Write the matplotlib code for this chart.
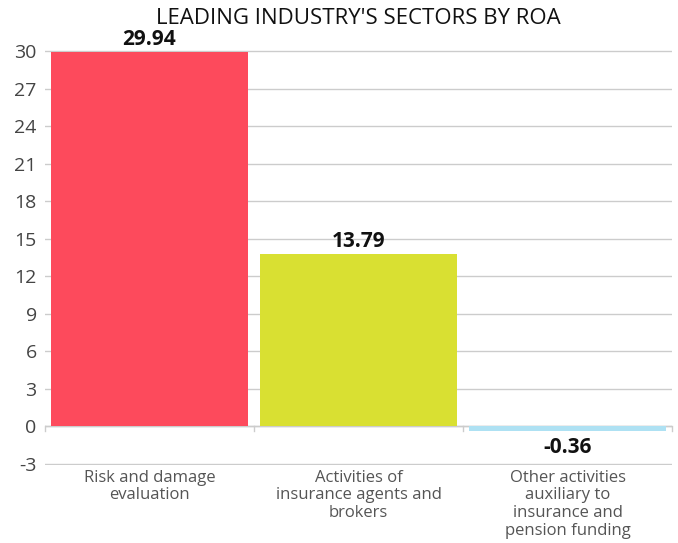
import matplotlib
matplotlib.use("Agg")
import matplotlib.pyplot as plt

categories = ["Risk and damage\nevaluation",
              "Activities of\ninsurance agents and\nbrokers",
              "Other activities\nauxiliary to\ninsurance and\npension funding"]
values = [29.94, 13.79, -0.36]
value_labels = ["29.94", "13.79", "-0.36"]
colors = ["#fd4a5c", "#d9e032", "#aee1f3"]
yticks = [-3, 0, 3, 6, 9, 12, 15, 18, 21, 24, 27, 30]
title = "LEADING INDUSTRY'S SECTORS BY ROA"

plt.rcParams['font.family'] = ['Open Sans', 'DejaVu Sans']

fig = plt.figure(figsize=(6.78, 5.43), dpi=100)
ax = fig.add_axes([45/678, 1-465.25/543, (672-45)/678, (465.25-49.75)/543])

x = list(range(len(categories)))
ax.bar(x, values, width=0.94, color=colors, zorder=3)
ax.set_xlim(-0.5, 2.5)
ax.set_ylim(-3.1, 30.1)
ax.set_yticks(yticks)
ax.set_yticklabels([str(t) for t in yticks], fontsize=14, color="#444444")
ax.yaxis.grid(True, color="#cccccc", linewidth=1, zorder=0)
ax.tick_params(axis='y', length=0, pad=6)
ax.set_xticks([])
for s in ["top", "right", "left", "bottom"]:
    ax.spines[s].set_visible(False)

# zero axis line with category ticks
ax.axhline(0, color="#cccccc", linewidth=1, zorder=2)
for b in [-0.5, 0.5, 1.5, 2.5]:
    ax.plot([b, b], [0, -0.35], color="#cccccc", linewidth=1, zorder=2, clip_on=False)

for xi, v, lab in zip(x, values, value_labels):
    if v >= 0:
        ax.text(xi, v + 0.15, lab, ha="center", va="bottom", fontsize=15, fontweight="bold", color="#111111")
    else:
        ax.text(xi, -1.65, lab, ha="center", va="center", fontsize=15, fontweight="bold", color="#111111")

for xi, cat in zip(x, categories):
    ax.text(xi, -3.45, cat, ha="center", va="top", fontsize=12, color="#555555", linespacing=1.15)

fig.text((45 + 672) / 2 / 678, 1 - 18.5/543, title, ha="center", va="center", fontsize=16, color="#111111")

fig.savefig("out.png", dpi=100)
